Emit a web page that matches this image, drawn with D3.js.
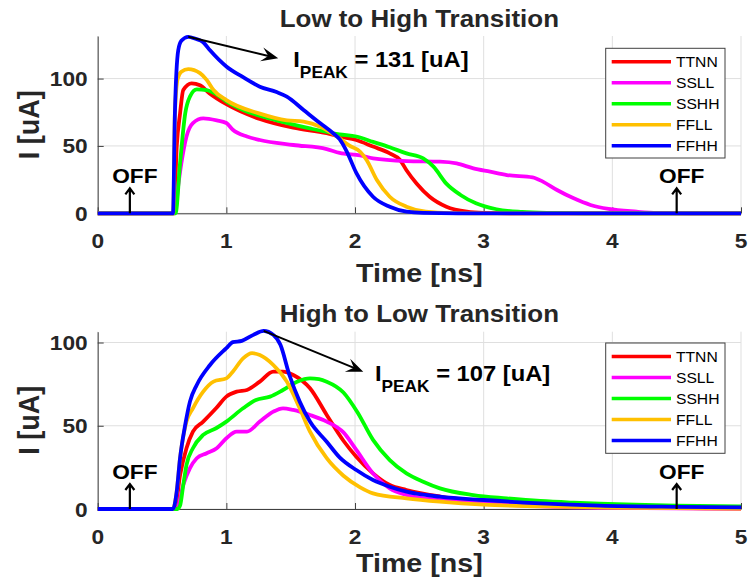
<!DOCTYPE html>
<html>
<head>
<meta charset="utf-8">
<script src="https://cdn.jsdelivr.net/npm/d3@7"></script>
<style>
  body { margin: 0; background: #fff; }
  svg text { font-family: "Liberation Sans", Arial, sans-serif; fill: #262626; }
</style>
</head>
<body>
<div id="chart"></div>
<script>
// --- DATA (time in ns, current in uA) ---
const seriesNames = ["TTNN", "SSLL", "SSHH", "FFLL", "FFHH"];
const seriesColors = ["#ff0000", "#ff00ff", "#00ff00", "#ffc000", "#0000ff"];
const xTicks = [0, 1, 2, 3, 4, 5];
const yTicks = [0, 50, 100];

// Low to High transition
const lhTTNN = [[0,0],[0.592,0],[0.614,49.5],[0.64,74],[0.665,91.5],[0.73,96.5],[0.795,95],[0.87,89],[1.0,81],[1.26,70],[1.52,63.5],[1.78,59.4],[1.88,57],[2.01,54.4],[2.14,49.5],[2.27,44.5],[2.35,39.6],[2.40,32],[2.48,22],[2.58,12.3],[2.71,4.9],[2.87,1.2],[3.0,0.3],[3.2,0],[5,0]];
const lhSSLL = [[0,0],[0.6,0],[0.625,20],[0.65,37],[0.69,57],[0.74,67],[0.82,70.5],[0.925,69],[1.0,67],[1.05,62],[1.16,57],[1.26,54.4],[1.52,50.7],[1.78,47.7],[1.88,44.8],[2.04,43],[2.14,40.8],[2.4,38.8],[2.66,38.3],[2.79,37],[2.92,33.4],[3.05,30.9],[3.18,28.4],[3.38,26.7],[3.46,23.5],[3.57,17.3],[3.70,11.1],[3.83,6.2],[3.97,3.2],[4.19,1.2],[4.35,0.3],[4.6,0],[5,0]];
const lhSSHH = [[0,0],[0.605,0],[0.64,37],[0.68,74],[0.717,86.6],[0.77,92],[0.847,91.5],[0.95,86.6],[1.0,83],[1.13,76.7],[1.39,69],[1.65,63],[1.88,58.6],[2.01,57],[2.14,53],[2.27,49],[2.4,44.5],[2.53,40.8],[2.61,34.6],[2.71,22],[2.82,13.6],[2.94,7.4],[3.1,3],[3.3,1],[3.5,0.3],[3.8,0],[5,0]];
const lhFFLL = [[0,0],[0.587,0],[0.6,74],[0.622,100],[0.65,105],[0.704,107],[0.795,104],[0.847,99],[0.9,91.5],[1.0,84],[1.26,74],[1.47,69],[1.6,68],[1.73,64.3],[1.86,57],[1.96,50],[2.04,45.7],[2.09,39.6],[2.17,24.7],[2.27,12.3],[2.4,4.9],[2.55,1.2],[2.75,0.2],[3,0],[5,0]];
const lhFFHH = [[0,0],[0.585,0],[0.6,74],[0.626,121],[0.65,128],[0.704,131],[0.76,129.5],[0.82,127],[0.873,121],[1.0,109],[1.13,101],[1.26,94],[1.39,90],[1.47,86.6],[1.6,76.7],[1.73,66.8],[1.83,59.4],[1.88,55],[1.935,46],[2.01,30],[2.14,12.3],[2.27,4.9],[2.4,1.2],[2.53,0.3],[2.8,0],[5,0]];

// High to Low transition
const hlTTNN = [[0,0],[0.6,0],[0.64,20.4],[0.69,36.5],[0.74,46.5],[0.82,52.5],[0.92,60.5],[1.0,67.5],[1.08,70.5],[1.16,71.5],[1.26,76.5],[1.365,82.5],[1.44,82.5],[1.52,80.5],[1.65,72.5],[1.78,56.5],[1.91,41],[2.01,31.4],[2.14,21.4],[2.27,14.4],[2.4,11.4],[2.66,7.5],[3.0,4.5],[3.5,2.2],[4.0,1.1],[4.5,0.6],[5,0.3]];
const hlSSLL = [[0,0],[0.615,0],[0.665,14.4],[0.717,24.5],[0.77,30.5],[0.847,33.5],[0.925,36.5],[1.0,42.5],[1.08,46.5],[1.16,46.5],[1.26,52.5],[1.365,58.5],[1.44,60.5],[1.52,59.5],[1.65,56.5],[1.78,52.5],[1.91,46],[2.01,35.5],[2.14,21.4],[2.27,12.4],[2.4,8.4],[2.66,5.4],[3.0,3.4],[3.5,1.5],[4,0.7],[4.5,0.4],[5,0.2]];
const hlSSHH = [[0,0],[0.62,0],[0.64,2],[0.665,14.4],[0.69,26.4],[0.74,36.5],[0.82,44.5],[0.92,48.5],[1.0,52.5],[1.13,60.5],[1.23,65.5],[1.34,67.5],[1.44,71.5],[1.55,76.5],[1.65,78.5],[1.72,78],[1.78,76.5],[1.91,70],[2.02,58],[2.14,41.5],[2.27,29.4],[2.4,21.4],[2.53,16.4],[2.66,12.4],[2.92,8.4],[3.18,6.4],[3.44,4.8],[3.7,3.8],[3.9,3.2],[4.5,2],[5,1.5]];
const hlFFLL = [[0,0],[0.585,0],[0.614,10.4],[0.64,30.5],[0.69,52.5],[0.74,60.5],[0.82,70.5],[0.9,76.5],[1.0,78.5],[1.05,82.5],[1.13,90.5],[1.2,93.6],[1.26,92.5],[1.365,86.5],[1.47,76.5],[1.57,60.5],[1.65,46.5],[1.78,30.5],[1.91,20],[2.04,13],[2.14,9.4],[2.4,6.4],[2.66,4.4],[3.0,2.6],[3.44,1.6],[4,0.8],[5,0.3]];
const hlFFHH = [[0,0],[0.585,0],[0.614,10.4],[0.64,30.5],[0.68,50.5],[0.717,64.5],[0.77,74.5],[0.873,86.5],[1.0,96.6],[1.05,100.2],[1.12,101],[1.21,104.6],[1.29,107],[1.365,104.6],[1.42,98.6],[1.49,80.5],[1.57,64.5],[1.65,52.5],[1.78,40.4],[1.88,31],[2.01,23.4],[2.14,17.4],[2.27,13.4],[2.4,10.4],[2.66,7.4],[3.0,5.4],[3.44,3.4],[3.9,2],[4.5,1.3],[5,1]];

// annotations: peak point, arrow end, label anchor (data units)
const lhPeak = { peak: [0.704, 131], end: [1.403, 115], label: [1.52, 108.6], value: 131 };
const hlPeak = { peak: [1.29, 107], end: [2.064, 82.5], label: [2.155, 76.9], value: 107 };
const offTimes = [0.25, 4.5];

// --- LAYOUT ---
const W = 749, H = 588;
const SX = 1.08; // the reference text is slightly stretched horizontally
const svg = d3.select("#chart").append("svg").attr("width", W).attr("height", H);

const panels = [
    { title: "Low to High Transition", series: [lhTTNN, lhSSLL, lhSSHH, lhFFLL, lhFFHH], ann: lhPeak,
      top: 36, bottom: 213.3, yMax: 131.6, legendTop: 48.3, legendH: 109.7, xlabDy: 69 },
    { title: "High to Low Transition", series: [hlTTNN, hlSSLL, hlSSHH, hlFFLL, hlFFHH], ann: hlPeak,
      top: 331.7, bottom: 509, yMax: 106.5, legendTop: 343, legendH: 110.3, xlabDy: 63 }
];
const left = 97.7, right = 741;

function txt(g, x, y, str, size, weight, anchor) {
    return g.append("text")
        .attr("transform", `translate(${x},${y}) scale(${SX},1)`)
        .attr("text-anchor", anchor || "start")
        .style("font-size", size + "px")
        .style("font-weight", weight || "bold")
        .text(str);
}

panels.forEach(p => {
    const g = svg.append("g");
    const x = d3.scaleLinear().domain([0, 5]).range([left, right]);
    const y = d3.scaleLinear().domain([0, p.yMax]).range([p.bottom, p.top]);

    // grid
    g.append("g").selectAll("line").data(xTicks).join("line")
        .attr("x1", d => x(d)).attr("x2", d => x(d)).attr("y1", p.top).attr("y2", p.bottom)
        .attr("stroke", "#dfdfdf").attr("stroke-width", 1);
    g.append("g").selectAll("line").data(yTicks).join("line")
        .attr("x1", left).attr("x2", right).attr("y1", d => y(d)).attr("y2", d => y(d))
        .attr("stroke", "#dfdfdf").attr("stroke-width", 1);

    // axes (inner ticks, MATLAB style)
    const xAxis = g.append("g").attr("transform", `translate(0,${p.bottom})`)
        .call(d3.axisBottom(x).tickValues(xTicks).tickSizeInner(-6).tickSizeOuter(0).tickFormat(d3.format("d")));
    const yAxis = g.append("g").attr("transform", `translate(${left},0)`)
        .call(d3.axisLeft(y).tickValues(yTicks).tickSizeInner(-6).tickSizeOuter(0).tickFormat(d3.format("d")));
    [xAxis, yAxis].forEach(a => {
        a.select(".domain").attr("stroke", "#404040");
        a.selectAll(".tick line").attr("stroke", "#404040");
        a.selectAll(".tick text").remove();
    });
    xTicks.forEach(t => txt(g, x(t), p.bottom + 35, t, 21, "bold", "middle"));
    yTicks.forEach(t => txt(g, left - 10, y(t) + 7.5, t, 21, "bold", "end"));

    // lines
    const line = d3.line().x(d => x(d[0])).y(d => y(d[1])).curve(d3.curveMonotoneX);
    g.append("g").selectAll("path").data(p.series).join("path")
        .attr("d", line).attr("fill", "none")
        .attr("stroke", (d, i) => seriesColors[i]).attr("stroke-width", 3.8)
        .attr("stroke-linejoin", "round");

    // title & labels
    txt(g, (left + right) / 2, p.top - 9.5, p.title, 24, "bold", "middle");
    txt(g, (left + right) / 2, p.bottom + p.xlabDy, "Time [ns]", 26.5, "bold", "middle");
    g.append("text")
        .attr("transform", `translate(${39},${(p.top + p.bottom) / 2}) scale(${SX},1) rotate(-90)`)
        .attr("text-anchor", "middle").style("font-size", "27px").style("font-weight", "bold")
        .text("I [uA]");

    // OFF markers
    offTimes.forEach(t => {
        const ax = x(t), ay = p.bottom;
        g.append("path")
            .attr("d", `M${ax},${ay} V${ay - 25} M${ax - 4.5},${ay - 19} L${ax},${ay - 25} L${ax + 4.5},${ay - 19}`)
            .attr("fill", "none").attr("stroke", "#000").attr("stroke-width", 2.2);
        txt(g, ax + 5, ay - 30, "OFF", 21, "bold", "middle").style("fill", "#000");
    });

    // peak annotation
    const a = p.ann;
    const x0 = x(a.peak[0]), y0 = y(a.peak[1]), x1 = x(a.end[0]), y1 = y(a.end[1]);
    const ang = Math.atan2(y1 - y0, x1 - x0);
    g.append("line").attr("x1", x0).attr("y1", y0)
        .attr("x2", x1 - 8 * Math.cos(ang)).attr("y2", y1 - 8 * Math.sin(ang))
        .attr("stroke", "#000").attr("stroke-width", 2);
    const hl = 17, hw = 7;
    const pt = (dx, dy) => [x1 + dx * Math.cos(ang) - dy * Math.sin(ang), y1 + dx * Math.sin(ang) + dy * Math.cos(ang)];
    g.append("path")
        .attr("d", "M" + [pt(0, 0), pt(-hl, -hw), pt(-hl * 0.6, 0), pt(-hl, hw)].map(q => q.join(",")).join("L") + "Z")
        .attr("fill", "#000");
    const lt = g.append("text")
        .attr("transform", `translate(${x(a.label[0])},${y(a.label[1])}) scale(${SX},1)`)
        .style("font-size", "22px").style("font-weight", "bold").style("fill", "#000");
    lt.append("tspan").text("I");
    lt.append("tspan").attr("dy", 11).style("font-size", "16px").text("PEAK");
    lt.append("tspan").attr("dy", -11).text(` = ${a.value} [uA]`);

    // legend
    const lg = g.append("g");
    lg.append("rect").attr("x", 605.7).attr("y", p.legendTop).attr("width", 119.3).attr("height", p.legendH)
        .attr("fill", "#fff").attr("stroke", "#404040").attr("stroke-width", 1);
    seriesNames.forEach((name, i) => {
        const ry = p.legendTop + 13.5 + i * 21;
        lg.append("line").attr("x1", 611.7).attr("x2", 671).attr("y1", ry).attr("y2", ry)
            .attr("stroke", seriesColors[i]).attr("stroke-width", 3.5);
        txt(lg, 676, ry + 5, name, 14.5, "normal", "start").style("fill", "#000");
    });
});
</script>
</body>
</html>
